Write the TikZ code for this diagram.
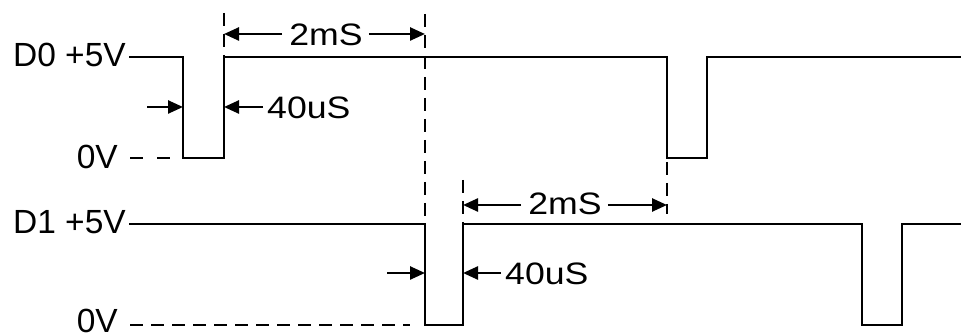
\documentclass[tikz,border=0pt]{standalone}
\usepackage{fontspec}
\setmainfont{Liberation Sans}
\newfontfamily\widefont{Liberation Sans}[FakeStretch=1.15]
\usetikzlibrary{arrows.meta}
\begin{document}
\begin{tikzpicture}[x=1pt,y=-1pt,
  wave/.style={line width=2.9pt, line join=miter, line cap=butt},
  dashline/.style={line width=2.5pt, dash pattern=on 13pt off 8pt},
  dimarrow/.style={line width=2.5pt, -{Triangle[length=15pt,width=13pt]}},
  lbl/.style={font=\fontsize{33.5}{34}\selectfont, inner sep=0pt},
  mlbl/.style={font=\widefont\fontsize{31}{31}\selectfont, inner sep=0pt}]
\useasboundingbox (0,0) rectangle (961,336);

% waveform corners
\coordinate (a0) at (129,57);
\coordinate (a1) at (183,57);
\coordinate (a2) at (183,158);
\coordinate (a3) at (224,158);
\coordinate (a4) at (224,57);
\coordinate (a5) at (667,57);
\coordinate (a6) at (667,158);
\coordinate (a7) at (707,158);
\coordinate (a8) at (707,57);
\coordinate (a9) at (961,57);

\coordinate (b0) at (129,224);
\coordinate (b1) at (425,224);
\coordinate (b2) at (425,325);
\coordinate (b3) at (463,325);
\coordinate (b4) at (463,224);
\coordinate (b5) at (862,224);
\coordinate (b6) at (862,325);
\coordinate (b7) at (902,325);
\coordinate (b8) at (902,224);
\coordinate (b9) at (961,224);

\draw[wave] (a0) -- (a1) -- (a2) -- (a3) -- (a4) -- (a5) -- (a6) -- (a7) -- (a8) -- (a9);
\draw[wave] (b0) -- (b1) -- (b2) -- (b3) -- (b4) -- (b5) -- (b6) -- (b7) -- (b8) -- (b9);

% labels
\node[lbl, anchor=east] (d0) at (126,55) {D0 +5V};
\node[lbl, anchor=east] (z0) at (118,157) {0V};
\node[lbl, anchor=east] (d1) at (126,222) {D1 +5V};
\node[lbl, anchor=east] (z1) at (118,321) {0V};

% 0V dashed references
\coordinate (z0s) at (130,158);
\coordinate (z0e) at (172,158);
\coordinate (z1s) at (130,325);
\coordinate (z1e) at (410,325);
\draw[dashline, dash pattern=on 13pt off 14pt] (z0s) -- (z0e);
\draw[dashline] (z1s) -- (z1e);

% vertical dashed markers
\coordinate (v1t) at (224,13);
\coordinate (v2t) at (425,14);
\coordinate (v3t) at (463,180);
\coordinate (v4t) at (667,162);
\coordinate (v4b) at (667,214);
\draw[dashline] (v1t) -- (a4);
\draw[dashline] (v2t) -- (b1);
\draw[dashline] (v3t) -- (b4);
\draw[dashline] (v4t) -- (v4b);

% 2mS dimensions
\node[mlbl] (t0) at (326,35) {2mS};
\coordinate (t0l) at (224,34);
\coordinate (t0r) at (425,34);
\draw[dimarrow] ([xshift=-7pt]t0.west |- t0l) -- (t0l);
\draw[dimarrow] ([xshift=6pt]t0.east |- t0r) -- (t0r);

\node[mlbl] (t1) at (565,204) {2mS};
\coordinate (t1l) at (463,205);
\coordinate (t1r) at (667,205);
\draw[dimarrow] ([xshift=-7pt]t1.west |- t1l) -- (t1l);
\draw[dimarrow] ([xshift=6pt]t1.east |- t1r) -- (t1r);

% 40uS dimensions
\coordinate (p0a) at (147,107);
\coordinate (p0b) at (183,107);
\draw[dimarrow] (p0a) -- (p0b);
\node[mlbl, anchor=west] (u0) at (267,108) {40uS};
\coordinate (p0c) at (224,107);
\draw[dimarrow] ([xshift=-4pt]u0.west |- p0c) -- (p0c);

\coordinate (p1a) at (387,273);
\coordinate (p1b) at (425,273);
\draw[dimarrow] (p1a) -- (p1b);
\node[mlbl, anchor=west] (u1) at (505,274) {40uS};
\coordinate (p1c) at (463,273);
\draw[dimarrow] ([xshift=-4pt]u1.west |- p1c) -- (p1c);
\end{tikzpicture}
\end{document}
